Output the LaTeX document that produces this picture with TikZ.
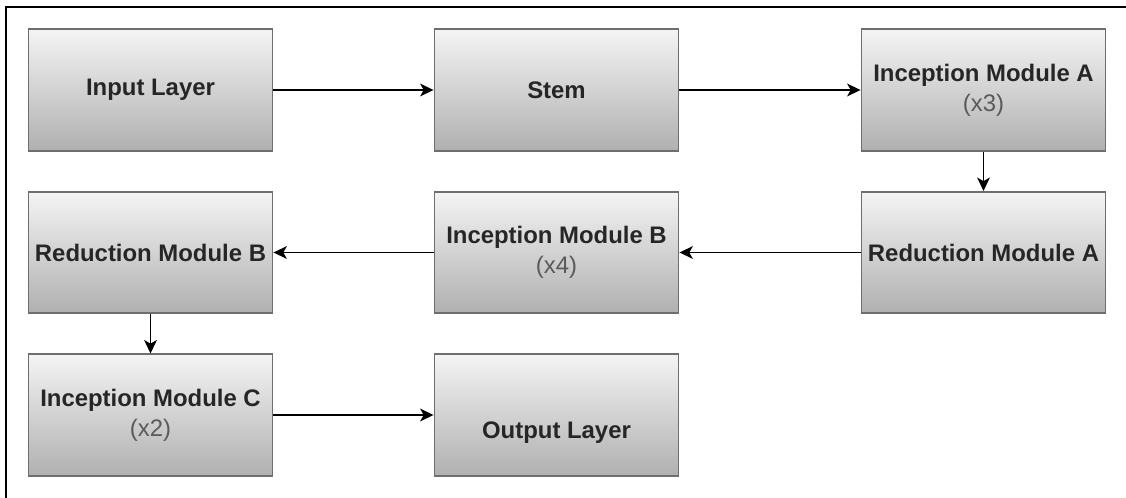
\documentclass[tikz,border=0pt]{standalone}
\usepackage{fontspec}
\setmainfont{Liberation Sans}
\usepackage{tikz}
\usetikzlibrary{arrows.meta}

\definecolor{boxtop}{HTML}{F4F4F4}
\definecolor{boxbot}{HTML}{B0B0B0}
\definecolor{boxline}{HTML}{6E6E6E}
\definecolor{boxtext}{HTML}{262626}
\definecolor{reptext}{HTML}{5A5A5A}

\newcommand{\rep}[1]{{\mdseries\color{reptext}#1}}

\begin{document}
\begin{tikzpicture}[x=0.025cm, y=-0.025cm,
	block/.style={rectangle, draw=boxline, line width=1.3pt, top color=boxtop, bottom color=boxbot,
		minimum width=6.1cm, minimum height=3.03cm, inner sep=0pt, align=center,
		text=boxtext, font=\fontsize{17}{21.5}\selectfont\bfseries},
	flow/.style={-{Stealth[length=9.5pt, width=9pt, inset=2.5pt]}, line width=1.4pt, black}]
		\useasboundingbox (0,0) rectangle (1126,498);
		% frame
		\draw[line width=2pt, black] (6,498) -- (6,7) -- (1126,7);

		\node (input) [block] at (150.5,90) {Input Layer};
		\node (stem) [block] at (556.5,90) {Stem};
		\node (inca) [block] at (983.5,90) {Inception Module A\\\rep{(x3)}};

		\node (reda) [block] at (983.5,252.5) {Reduction Module A};
		\node (incb) [block] at (556.5,252.5) {Inception Module B\\\rep{(x4)}};
		\node (redb) [block] at (150.5,252.5) {Reduction Module B};

		\node (incc) [block] at (150.5,415) {Inception Module C\\\rep{(x2)}};
		\node (output) [block] at (556.5,415) {\strut\\Output Layer};

		\draw[flow] (input) -- (stem);
		\draw[flow] (stem) -- (inca);
		\draw[flow] (inca) -- (reda);
		\draw[flow] (reda) -- (incb);
		\draw[flow] (incb) -- (redb);
		\draw[flow] (redb) -- (incc);
		\draw[flow] (incc) -- (output);

	\end{tikzpicture}
\end{document}
